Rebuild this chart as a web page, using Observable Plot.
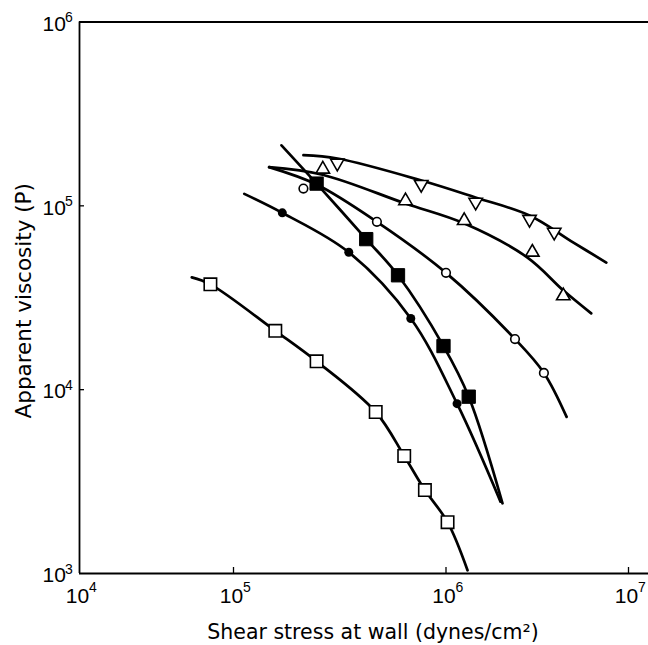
<!DOCTYPE html>
<html>
<head>
<meta charset="utf-8">
<script src="https://cdn.jsdelivr.net/npm/d3@7"></script>
<script src="https://cdn.jsdelivr.net/npm/@observablehq/plot@0.6"></script>
<style>
  body { margin: 0; background: #fff; }
  #chart svg { display: block; }
</style>
</head>
<body>
<div id="chart"></div>
<script>
// Axis ticks (log decades) and the right end of the stress axis
const xTicks = [1e4, 1e5, 1e6, 1e7];
const yTicks = [1e3, 1e4, 1e5, 1e6];
const xMax = 1.287e7;

// Open squares
const openSquareStress = [7.08e4, 1.573e5, 2.461e5, 4.669e5, 6.358e5, 7.957e5, 1.02e6];
const openSquareViscosity = [37400, 20900, 14260, 7560, 4360, 2843, 1902];
const openSquareCurveStress = [5.36e4, 7.08e4, 1.573e5, 2.461e5, 4.669e5, 6.358e5, 7.957e5, 1.02e6, 1.312e6];
const openSquareCurveViscosity = [40800, 37400, 20900, 14260, 7560, 4360, 2843, 1902, 1041];

// Filled circles
const filledCircleStress = [1.697e5, 3.488e5, 6.83e5, 1.15e6];
const filledCircleViscosity = [91600, 55900, 24400, 8390];
const filledCircleCurveStress = [1.124e5, 1.697e5, 3.488e5, 6.83e5, 1.15e6, 1.989e6];
const filledCircleCurveViscosity = [116200, 91600, 55900, 24400, 8390, 2460];

// Filled squares
const filledSquareStress = [2.461e5, 4.213e5, 5.945e5, 9.732e5, 1.332e6];
const filledSquareViscosity = [132100, 65900, 41900, 17270, 9160];
const filledSquareCurveStress = [1.682e5, 2.461e5, 4.213e5, 5.945e5, 9.732e5, 1.332e6, 2.04e6];
const filledSquareCurveViscosity = [213400, 132100, 65900, 41900, 17270, 9160, 2410];

// Open circles
const openCircleStress = [2.133e5, 4.73e5, 1.0e6, 2.388e6, 3.439e6];
const openCircleViscosity = [124200, 81800, 43200, 18850, 12340];
const openCircleCurveStress = [1.471e5, 2.461e5, 4.73e5, 1.0e6, 2.388e6, 3.439e6, 4.58e6];
const openCircleCurveViscosity = [162400, 130600, 81800, 43200, 18850, 12340, 7110];

// Upward triangles
const upTriangleStress = [2.632e5, 6.448e5, 1.258e6, 2.971e6, 4.393e6];
const upTriangleViscosity = [158200, 106500, 83100, 55900, 32350];
const upTriangleCurveStress = [1.471e5, 2.623e5, 6.448e5, 1.263e6, 2.797e6, 4.404e6, 6.247e6];
const upTriangleCurveViscosity = [162400, 147700, 102900, 80100, 52300, 34600, 26000];

// Downward triangles
const downTriangleStress = [3.079e5, 7.644e5, 1.454e6, 2.868e6, 3.916e6];
const downTriangleViscosity = [171000, 130800, 104700, 84500, 71900];
const downTriangleCurveStress = [2.133e5, 3.085e5, 7.669e5, 1.451e6, 2.868e6, 4.995e6, 7.557e6];
const downTriangleCurveViscosity = [188500, 180900, 137300, 111000, 88600, 63100, 49150];

const rows = (xs, ys) => xs.map((x, i) => ({stress: x, viscosity: ys[i]}));

const curve = (xs, ys) => Plot.line(rows(xs, ys), {
  x: "stress", y: "viscosity", curve: "catmull-rom",
  stroke: "black", strokeWidth: 2.7, strokeLinecap: "round"
});

const exponent = d => String(Math.round(Math.log10(d)));

const W = 648, H = 645;
const mLeft = 79, mRight = 0, mTop = 21.5, mBottom = 72;
const frameW = W - mLeft - mRight, frameH = H - mTop - mBottom;

const plot = Plot.plot({
  width: W,
  height: H,
  marginLeft: mLeft,
  marginRight: mRight,
  marginTop: mTop,
  marginBottom: mBottom,
  style: {fontFamily: "'Liberation Sans', Arial, sans-serif", background: "white", color: "black"},
  // the printed stress axis has slightly uneven decades; a piecewise log scale follows them
  x: {type: "log", domain: [...xTicks, xMax], range: [79, 233, 445.5, 628, 648], axis: null},
  y: {type: "log", domain: [yTicks[0], yTicks[yTicks.length - 1]], axis: null},
  marks: [
    // frame: left, bottom and top edges
    Plot.ruleX([xTicks[0]], {stroke: "black", strokeWidth: 1.8}),
    Plot.ruleY([yTicks[0], yTicks[yTicks.length - 1]], {stroke: "black", strokeWidth: 1.8}),

    // short inward tick marks
    Plot.tickX(xTicks.slice(1), {x: d => d, insetTop: frameH - 6, stroke: "black", strokeWidth: 1.3}),
    Plot.tickY(yTicks.slice(1, -1), {y: d => d, insetRight: frameW - 5, stroke: "black", strokeWidth: 1.3}),

    // decade labels, 10 with a raised exponent
    Plot.text(xTicks, {x: d => d, frameAnchor: "bottom", lineAnchor: "middle", textAnchor: "middle", text: () => "10", dy: 23, dx: -2, fontSize: 21}),
    Plot.text(xTicks, {x: d => d, frameAnchor: "bottom", lineAnchor: "middle", textAnchor: "start", text: exponent, dy: 14, dx: 9.5, fontSize: 14}),
    Plot.text(yTicks, {y: d => d, frameAnchor: "left", lineAnchor: "middle", textAnchor: "start", text: () => "10", dy: 2, dx: -37, fontSize: 21}),
    Plot.text(yTicks, {y: d => d, frameAnchor: "left", lineAnchor: "middle", textAnchor: "start", text: exponent, dy: -4, dx: -14.5, fontSize: 14}),

    // axis titles
    Plot.text(["Shear stress at wall (dynes/cm²)"], {frameAnchor: "bottom", lineAnchor: "middle", textAnchor: "middle", dy: 59, dx: 9, fontSize: 20.5, fontFamily: "'DejaVu Sans', sans-serif"}),
    Plot.text(["Apparent viscosity (P)"], {frameAnchor: "left", lineAnchor: "middle", textAnchor: "middle", dx: -55, dy: 3, rotate: -90, fontSize: 21.5, fontFamily: "'DejaVu Sans', sans-serif"}),

    // fitted curves
    curve(openSquareCurveStress, openSquareCurveViscosity),
    curve(filledCircleCurveStress, filledCircleCurveViscosity),
    curve(filledSquareCurveStress, filledSquareCurveViscosity),
    curve(openCircleCurveStress, openCircleCurveViscosity),
    curve(upTriangleCurveStress, upTriangleCurveViscosity),
    curve(downTriangleCurveStress, downTriangleCurveViscosity),

    // measured points
    Plot.dot(rows(openSquareStress, openSquareViscosity), {x: "stress", y: "viscosity", symbol: "square", r: 7, fill: "white", stroke: "black", strokeWidth: 1.6}),
    Plot.dot(rows(filledCircleStress, filledCircleViscosity), {x: "stress", y: "viscosity", symbol: "circle", r: 4.5, fill: "black", stroke: "none"}),
    Plot.dot(rows(filledSquareStress, filledSquareViscosity), {x: "stress", y: "viscosity", symbol: "square", r: 7.5, fill: "black", stroke: "black", strokeWidth: 1}),
    Plot.dot(rows(openCircleStress, openCircleViscosity), {x: "stress", y: "viscosity", symbol: "circle", r: 4.3, fill: "white", stroke: "black", strokeWidth: 1.6}),
    Plot.dot(rows(upTriangleStress, upTriangleViscosity), {x: "stress", y: "viscosity", symbol: "triangle", r: 5, fill: "white", stroke: "black", strokeWidth: 1.6}),
    Plot.dot(rows(downTriangleStress, downTriangleViscosity), {x: "stress", y: "viscosity", symbol: "triangle", rotate: 180, r: 5, fill: "white", stroke: "black", strokeWidth: 1.6})
  ]
});

document.getElementById("chart").appendChild(plot);
</script>
</body>
</html>
